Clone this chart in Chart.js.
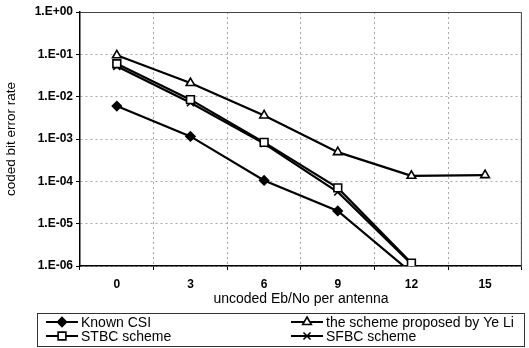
<!DOCTYPE html>
<html>
<head>
<meta charset="utf-8">
<script src="https://cdn.jsdelivr.net/npm/chart.js@4/dist/chart.umd.min.js"></script>
<style>
  html, body { margin: 0; padding: 0; background: #fff; }
  #wrap { width: 529px; height: 348px; }
</style>
</head>
<body>
<div id="wrap"><canvas id="c" width="529" height="348"></canvas></div>
<script>
// Eb/No per antenna (dB)
const snrLabels = ['0', '3', '6', '9', '12', '15'];

// coded bit error rate per scheme
const knownCSI = [6.0e-3, 1.15e-3, 1.05e-4, 2.0e-5, 7.0e-7, null];
const yeLi     = [9.5e-2, 2.1e-2, 3.6e-3, 4.9e-4, 1.35e-4, 1.4e-4];
const stbc     = [6.0e-2, 8.5e-3, 8.3e-4, 7.0e-5, 1.17e-6, null];
const sfbc     = [5.2e-2, 7.2e-3, 7.8e-4, 5.6e-5, 1.12e-6, null];

// decade ticks of the error-rate axis
const yTicks = [1e0, 1e-1, 1e-2, 1e-3, 1e-4, 1e-5, 1e-6];

const FONT = "'Liberation Sans', Arial, sans-serif";

function fmtExp(v) {
  const e = Math.round(Math.log10(v));
  return '1.E' + (e < 0 ? '-' : '+') + String(Math.abs(e)).padStart(2, '0');
}

function ds(label, data, style, radius, fill) {
  return {
    label, data,
    borderColor: '#000', borderWidth: 2.2,
    pointStyle: style, pointRadius: radius, pointHoverRadius: radius,
    pointBackgroundColor: fill, pointBorderColor: '#000', pointBorderWidth: 1.6,
    tension: 0, spanGaps: false
  };
}

const datasets = [
  ds('Known CSI', knownCSI, 'rectRot', 4.5, '#000'),
  ds('the scheme proposed by Ye Li', yeLi, 'triangle', 5, '#fff'),
  ds('STBC scheme', stbc, 'rect', 5.5, '#fff'),
  ds('SFBC scheme', sfbc, 'crossRot', 5, '#000')
];

// legend slots: [dataset index, line start x, row y]
const legendSlots = [
  [0, 46, 322], [1, 291, 322],
  [2, 46, 336], [3, 291, 336]
];

function marker(ctx, d, x, y) {
  const opts = {
    pointStyle: d.pointStyle, radius: d.pointRadius, rotation: 0,
    borderWidth: d.pointBorderWidth
  };
  ctx.save();
  ctx.fillStyle = d.pointBackgroundColor;
  ctx.strokeStyle = d.pointBorderColor;
  ctx.lineWidth = d.pointBorderWidth;
  Chart.helpers.drawPoint(ctx, opts, x, y);
  ctx.restore();
}

const frameAndLegend = {
  id: 'frameAndLegend',
  beforeDatasetsDraw(chart) {
    const { ctx, chartArea: a } = chart;
    ctx.save();
    ctx.strokeStyle = '#444';
    ctx.lineWidth = 1;
    ctx.beginPath();
    ctx.moveTo(a.left, a.top + 0.5);
    ctx.lineTo(a.right - 0.5, a.top + 0.5);
    ctx.lineTo(a.right - 0.5, a.bottom);
    ctx.stroke();
    ctx.restore();
  },
  afterDraw(chart) {
    const { ctx } = chart;
    ctx.save();
    ctx.strokeStyle = '#333';
    ctx.lineWidth = 1;
    ctx.strokeRect(37.5, 313.5, 487, 33);
    ctx.font = '14px ' + FONT;
    ctx.textBaseline = 'middle';
    legendSlots.forEach(([i, x, y]) => {
      const d = chart.data.datasets[i];
      ctx.strokeStyle = '#000';
      ctx.lineWidth = 2;
      ctx.beginPath();
      ctx.moveTo(x, y);
      ctx.lineTo(x + 32, y);
      ctx.stroke();
      marker(ctx, d, x + 16, y);
      ctx.fillStyle = '#000';
      ctx.fillText(d.label, x + 35, y + 1);
    });
    ctx.restore();
  }
};

const gridStyle = {
  color: '#a8a8a8', lineWidth: 1,
  borderDash: [2, 3],
  tickColor: '#000', tickLength: 4, tickBorderDash: []
};

new Chart(document.getElementById('c'), {
  type: 'line',
  data: { labels: snrLabels, datasets },
  plugins: [frameAndLegend],
  options: {
    responsive: false,
    animation: false,
    events: [],
    layout: { padding: { left: 0, right: 5, top: 12, bottom: 36 } },
    plugins: { legend: { display: false }, tooltip: { enabled: false } },
    scales: {
      x: {
        type: 'category',
        offset: true,
        grid: Object.assign({ offset: true }, gridStyle),
        border: { color: '#000', width: 1.5, dash: [2, 3] },
        ticks: { color: '#000', font: { family: FONT, size: 12, weight: 'bold' }, padding: 7, maxRotation: 0 },
        title: {
          display: true, text: 'uncoded Eb/No per antenna', color: '#000',
          font: { family: FONT, size: 14 }, padding: { top: 4, bottom: 4 }
        },
        afterFit(s) { s.height = 46; }
      },
      y: {
        type: 'logarithmic',
        min: 1e-6, max: 1,
        afterBuildTicks(s) { s.ticks = yTicks.map(v => ({ value: v })); },
        grid: Object.assign({}, gridStyle),
        border: { color: '#000', width: 1.5, dash: [2, 3] },
        ticks: {
          color: '#000', font: { family: FONT, size: 12, weight: 'bold' }, padding: 3,
          callback: v => fmtExp(v)
        },
        title: {
          display: true, text: 'coded bit error rate', color: '#000',
          font: { family: FONT, size: 13.5 }, padding: { top: 3, bottom: 3 }
        },
        afterFit(s) { s.width = 80; }
      }
    }
  }
});
</script>
</body>
</html>
